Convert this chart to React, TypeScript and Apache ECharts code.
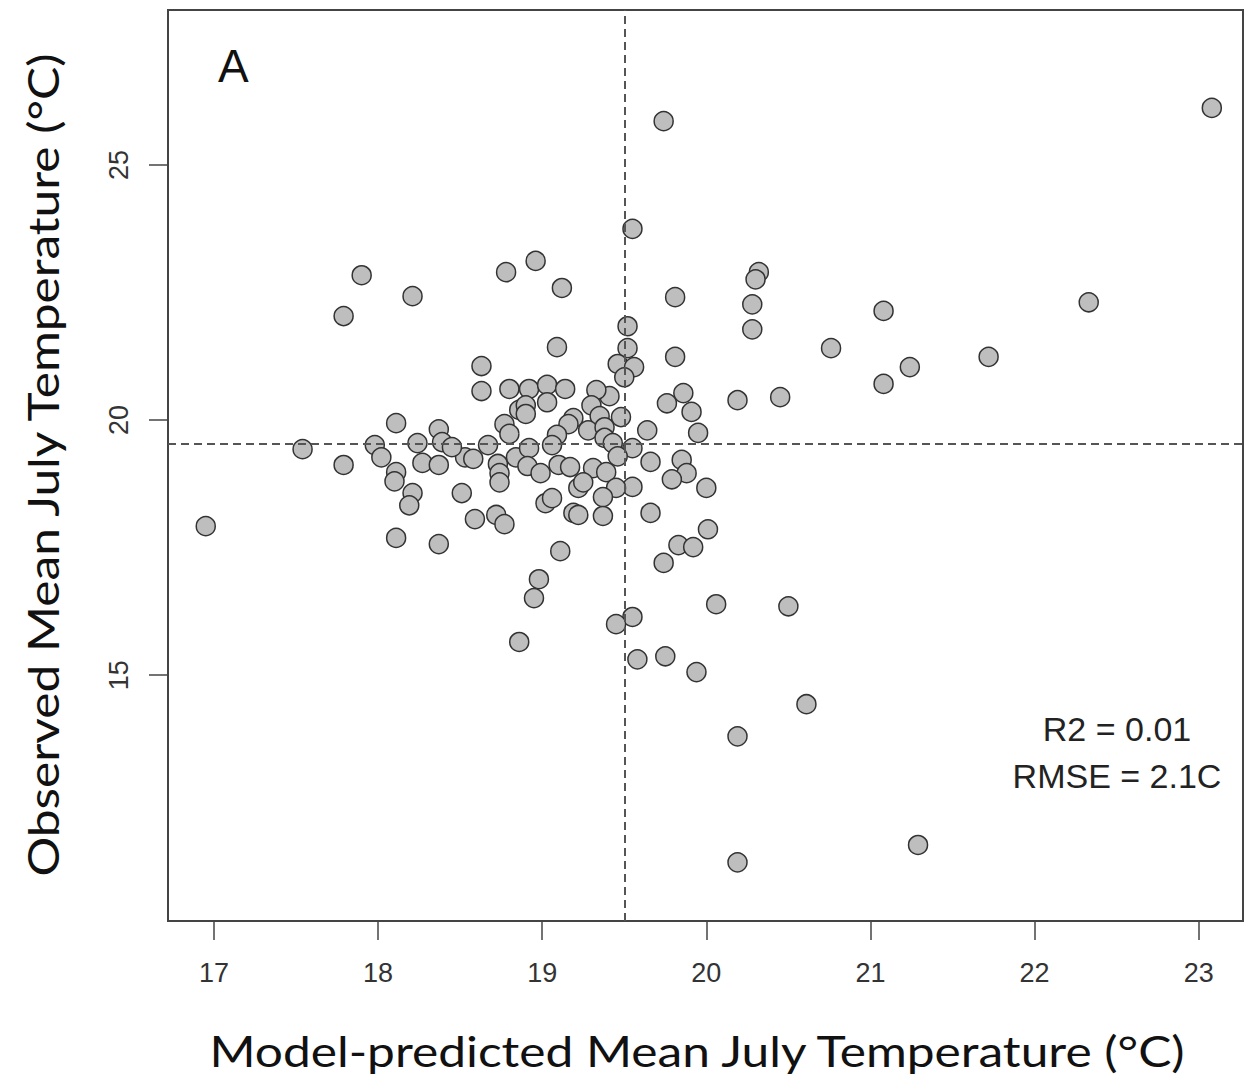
import React, { useEffect, useRef } from "react";
import * as echarts from "echarts";

// Model-predicted (x) and observed (y) mean July temperature, °C
const predicted: number[] = [
  16.95, 23.08, 19.74, 19.55, 17.90, 17.79, 18.21, 18.78, 18.96, 19.12,
  19.81, 20.32, 20.30, 20.28, 20.28, 22.33, 21.08, 20.76, 21.72, 21.24,
  21.08, 20.45, 20.19, 19.52, 19.52, 19.46, 19.56, 19.50, 19.81, 19.86,
  19.76, 19.91, 19.95, 19.64, 19.85, 19.66, 19.88, 19.79, 20.00, 19.66,
  20.01, 19.55, 19.55, 19.48, 19.41, 19.33, 19.30, 19.35, 19.19, 19.16,
  19.09, 18.63, 18.63, 18.80, 18.92, 19.03, 19.14, 19.03, 18.86, 18.90,
  18.90, 18.77, 18.80, 19.09, 19.28, 19.38, 19.06, 18.67, 18.53, 18.58,
  18.73, 18.74, 18.74, 18.84, 18.92, 18.91, 18.99, 19.10, 19.17, 19.38,
  19.43, 19.46, 19.31, 19.39, 18.51, 19.22, 19.25, 19.45, 19.37, 19.02,
  19.06, 18.59, 18.72, 18.77, 19.19, 19.22, 19.37, 19.83, 19.92, 19.74,
  19.11, 18.98, 18.95, 20.06, 20.50, 19.55, 19.45, 18.86, 19.58, 19.75,
  19.94, 20.61, 20.19, 20.19, 21.29, 18.11, 18.37, 17.54, 17.98, 18.02,
  18.24, 18.39, 18.45, 17.79, 18.27, 18.37, 18.11, 18.10, 18.21, 18.19,
  18.11, 18.37,
];
const observed: number[] = [
  17.92, 26.12, 25.86, 23.75, 22.84, 22.04, 22.43, 22.90, 23.12, 22.59,
  22.41, 22.90, 22.76, 22.27, 21.78, 22.31, 22.14, 21.41, 21.24, 21.04,
  20.71, 20.45, 20.39, 21.84, 21.41, 21.10, 21.04, 20.84, 21.24, 20.53,
  20.33, 20.16, 19.75, 19.80, 19.22, 19.18, 18.96, 18.84, 18.67, 18.18,
  17.86, 18.69, 19.45, 20.06, 20.47, 20.59, 20.29, 20.08, 20.04, 19.92,
  21.43, 21.06, 20.57, 20.61, 20.61, 20.69, 20.61, 20.35, 20.20, 20.29,
  20.12, 19.92, 19.73, 19.71, 19.80, 19.86, 19.51, 19.51, 19.27, 19.24,
  19.14, 18.96, 18.78, 19.27, 19.45, 19.10, 18.96, 19.12, 19.08, 19.65,
  19.55, 19.29, 19.06, 18.98, 18.57, 18.67, 18.78, 18.67, 18.49, 18.37,
  18.47, 18.06, 18.14, 17.96, 18.18, 18.14, 18.12, 17.55, 17.51, 17.20,
  17.43, 16.88, 16.51, 16.39, 16.35, 16.14, 16.00, 15.65, 15.31, 15.37,
  15.06, 14.43, 13.80, 11.33, 11.67, 19.94, 19.82, 19.43, 19.51, 19.27,
  19.55, 19.57, 19.47, 19.12, 19.16, 19.12, 18.98, 18.80, 18.57, 18.33,
  17.69, 17.57,
];

const xTicks: number[] = [17, 18, 19, 20, 21, 22, 23];
const yTicks: number[] = [15, 20, 25];
const refX = 19.5;
const refY = 19.53;
const panelLabel = "A";
const statLines: string[] = ["R2 = 0.01", "RMSE = 2.1C"];
const xTitle = "Model-predicted Mean July Temperature (°C)";
const yTitle = "Observed Mean July Temperature (°C)";

export default function App() {
  const ref = useRef<HTMLDivElement>(null);
  useEffect(() => {
    document.body.style.margin = "0";
    if (!ref.current) return;
    const chart = echarts.init(ref.current, undefined, { renderer: "svg" });
    const points = predicted.map((x, i) => [x, observed[i]]);
    const axisFont = "'Liberation Sans', Arial, sans-serif";
    const titleFont = "Lato, 'Open Sans', sans-serif";
    chart.setOption({
      animation: false,
      backgroundColor: "#ffffff",
      grid: {
        show: true,
        left: 168,
        right: 2,
        top: 10,
        bottom: 157,
        borderColor: "#444",
        borderWidth: 2,
        backgroundColor: "transparent",
      },
      xAxis: {
        type: "value",
        min: 16.72,
        max: 23.27,
        axisLine: { show: false },
        splitLine: { show: false },
        axisTick: {
          show: true,
          customValues: xTicks,
          length: 19,
          lineStyle: { color: "#444", width: 1.5 },
        },
        axisLabel: {
          customValues: xTicks,
          fontSize: 27,
          fontFamily: axisFont,
          color: "#333",
          margin: 38,
        },
      },
      yAxis: {
        type: "value",
        min: 10.18,
        max: 28.04,
        axisLine: { show: false },
        splitLine: { show: false },
        axisTick: {
          show: true,
          customValues: yTicks,
          length: 19,
          lineStyle: { color: "#444", width: 1.5 },
        },
        axisLabel: {
          customValues: yTicks,
          rotate: 90,
          fontSize: 27,
          fontFamily: axisFont,
          color: "#333",
          margin: 36,
        },
      },
      series: [
        {
          type: "scatter",
          data: points,
          symbol: "circle",
          symbolSize: 19,
          itemStyle: { color: "#bebebe", borderColor: "#333", borderWidth: 1.5, opacity: 1 },
          markLine: {
            silent: true,
            symbol: "none",
            label: { show: false },
            lineStyle: { color: "#555", width: 2, type: [8, 5] },
            data: [{ xAxis: refX }, { yAxis: refY }],
          },
          z: 3,
        },
      ],
      graphic: [
        {
          type: "text",
          x: 697,
          y: 1050,
          scaleX: 1.155,
          style: {
            text: xTitle,
            fontSize: 43,
            fontFamily: titleFont,
            fill: "#111",
            align: "center",
            verticalAlign: "middle",
          },
        },
        {
          type: "text",
          x: 42,
          y: 465,
          rotation: Math.PI / 2,
          scaleX: 1.155,
          style: {
            text: yTitle,
            fontSize: 43,
            fontFamily: titleFont,
            fill: "#111",
            align: "center",
            verticalAlign: "middle",
          },
        },
        {
          type: "text",
          left: 218,
          top: 43,
          style: { text: panelLabel, fontSize: 46, fontFamily: axisFont, fill: "#111" },
        },
        {
          type: "text",
          x: 1117,
          y: 729,
          style: {
            text: statLines[0],
            fontSize: 34,
            fontFamily: axisFont,
            fill: "#222",
            align: "center",
            verticalAlign: "middle",
          },
        },
        {
          type: "text",
          x: 1117,
          y: 776,
          style: {
            text: statLines[1],
            fontSize: 34,
            fontFamily: axisFont,
            fill: "#222",
            align: "center",
            verticalAlign: "middle",
          },
        },
      ],
    });
    return () => chart.dispose();
  }, []);
  return <div ref={ref} style={{ width: 1245, height: 1078 }} />;
}
